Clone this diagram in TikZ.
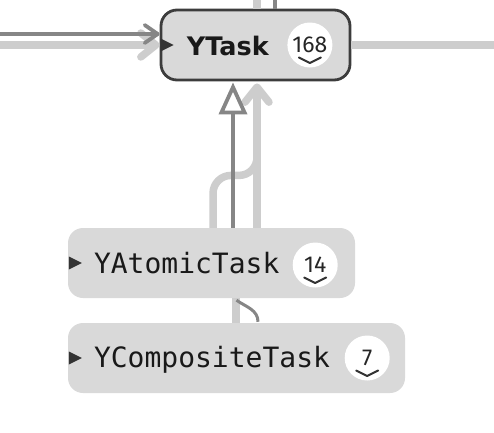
\documentclass[tikz,border=0pt]{standalone}
\usepackage{fontspec}
\setsansfont{DejaVu Sans}
\setmonofont{DejaVu Sans Mono}
\newfontfamily\countfont{Fira Sans}
\usetikzlibrary{arrows.meta, calc}
\definecolor{cbox}{HTML}{D9D9D9}
\definecolor{cedge}{HTML}{CDCDCD}
\definecolor{cdark}{HTML}{868686}
\definecolor{cframe}{HTML}{3C3C3C}
\definecolor{cmark}{HTML}{333333}
\tikzset{
  every picture/.style={line join=round},
  classbox/.style={fill=cbox, rounded corners=15pt, minimum height=70pt, inner sep=0pt},
  focus/.style={draw=cframe, line width=2.8pt, rounded corners=16pt},
  classname/.style={anchor=base west, inner sep=0pt, text=black!90, font=\ttfamily\fontsize{28}{28}\selectfont},
  count/.style={circle, fill=white, minimum size=45pt, inner sep=0pt, text=black!85, font=\countfont\fontsize{23}{23}\selectfont},
  edge/.style={draw=cedge, line width=7.5pt},
  link/.style={draw=cdark, line width=3.8pt},
  barbed/.style={-{Straight Barb[length=13pt, width=18pt, round]}},
  widebarbed/.style={-{Straight Barb[length=15pt, width=24pt, round]}},
}
% small triangle on the left side of a box
\newcommand{\boxmarker}[1]{\fill[cmark] ($(#1.west)+(1,-6.5)$) -- ($(#1.west)+(14,0)$) -- ($(#1.west)+(1,6.5)$) -- cycle;}
% chevron under a count
\newcommand{\countmark}[1]{\draw[cmark, line width=2pt, line cap=round] ($(#1)+(-11,12.5)$) -- ($(#1)+(0,18)$) -- ($(#1)+(11,12.5)$);}

\begin{document}
\begin{tikzpicture}[x=1pt, y=-1pt]
  \useasboundingbox (0,0) rectangle (494,432);
  % classes
  \node[classbox, focus, minimum width=189pt] (ytask) at (255.5,45) {};
  \node[classbox, minimum width=287pt] (atomic) at (211.5,263) {};
  \node[classbox, minimum width=337pt] (composite) at (236.5,358) {};
  \node[classname, font=\sffamily\bfseries\fontsize{25.5}{25.5}\selectfont] (ytasklabel) at ($(ytask.west)+(27,10)$) {YTask};
  \node[classname] (atomiclabel) at ($(atomic.west)+(26,10)$) {YAtomicTask};
  \node[classname] (compositelabel) at ($(composite.west)+(26,9)$) {YCompositeTask};
  \node[count] (ytaskcount) at ($(ytask.east)+(-41.5,0)$) {168};
  \node[count] (atomiccount) at ($(atomic.east)+(-40,2)$) {14};
  \node[count] (compositecount) at ($(composite.east)+(-38,0)$) {7};
  \boxmarker{ytask}
  \boxmarker{atomic}
  \boxmarker{composite}
  \countmark{ytaskcount}
  \countmark{atomiccount}
  \countmark{compositecount}
  % ends outside the picture
  \coordinate (indark) at (0,34);
  \coordinate (inlight) at (0,45);
  \coordinate (outright) at (494,45);
  \coordinate (uplight) at (257,0);
  \coordinate (updark) at (275,0);
  % connectors
  \draw[edge, widebarbed] (inlight) -- (ytask.west);
  \draw[link, barbed] (indark) -- (ytask.west |- indark);
  \draw[edge] (ytask.east) -- (outright);
  \draw[edge] (uplight |- ytask.north) -- (uplight);
  \draw[link] (updark |- ytask.north) -- (updark);
  \draw[edge, rounded corners=18pt] ($(atomic.north)+(1.5,0)$) |- ($(ytask.south)+(1.5,94)$) -- ($(ytask.south)+(1.5,70)$);
  \draw[edge, widebarbed] ($(atomic.north)+(45.5,0)$) -- ($(ytask.south)+(1.5,2)$);
  \draw[link, -{Triangle[fill=white, length=32pt, width=28pt]}] ($(atomic.north)+(21.5,0)$) -- ($(ytask.south)+(-22.5,1)$);
  \draw[edge] ($(atomic.south)+(24.5,0)$) -- ($(composite.north)+(-0.5,0)$);
  \draw[link, line width=3pt] ($(atomic.south)+(25,2)$) to[out=-35, in=90] ($(composite.north)+(21.5,-1)$);
\end{tikzpicture}
\end{document}
